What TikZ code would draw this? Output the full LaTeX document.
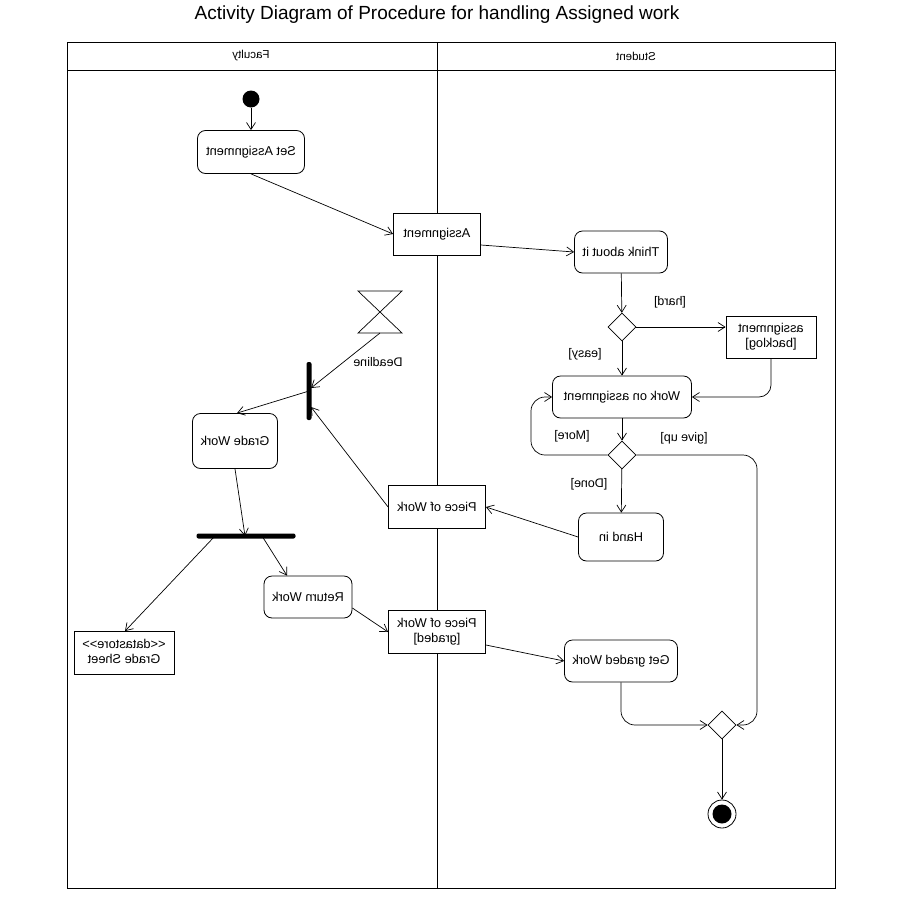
\documentclass[tikz,border=0pt]{standalone}
\usepackage{fontspec}
\setmainfont{Liberation Sans}
\usetikzlibrary{shapes.geometric,arrows.meta}
\newcommand\mir[1]{\scalebox{-1}[1]{#1}}
\tikzset{
  conn/.style={line width=0.7pt,-{Straight Barb[length=7pt,width=9pt]}},
  line/.style={line width=0.7pt},
  act/.style={draw,line width=0.8pt,rounded corners=8pt,fill=white,font=\fontsize{12.8}{14.5}\selectfont,inner sep=0pt},
  obj/.style={draw,line width=0.8pt,fill=white,font=\fontsize{12.8}{14.5}\selectfont,inner sep=0pt,align=center},
  dec/.style={draw,line width=0.8pt,diamond,fill=white,minimum width=28pt,minimum height=28pt,inner sep=0pt},
  bar/.style={fill=black,rounded corners=2pt,inner sep=0pt},
  lbl/.style={font=\fontsize{12.5}{14}\selectfont,inner sep=0pt},
  lane/.style={line width=1pt}
}
\begin{document}
\begin{tikzpicture}[x=1pt,y=-1pt]
\useasboundingbox (0,0) rectangle (900,900);
% title
\node[font=\fontsize{19}{22}\selectfont] (title) at (437,15) {Activity Diagram of Procedure for handling Assigned work};
% swimlanes
\draw[lane] (67,42) rectangle (835,888);
\draw[lane] (67,70) -- (835,70);
\draw[lane] (437,42) -- (437,888);
\node[lbl,font=\fontsize{11.5}{13}\selectfont] (fac) at (251,56) {\mir{Faculty}};
\node[lbl,font=\fontsize{11.5}{13}\selectfont] (stu) at (636,56) {\mir{Student}};
% nodes
\node[circle,fill=black,minimum size=17pt,inner sep=0pt] (init) at (251,99) {};
\node[act,minimum width=107pt,minimum height=43pt] (set) at (251,152) {\mir{Set Assignment}};
\node[obj,minimum width=87pt,minimum height=42pt] (asg) at (437,234) {\mir{Assignment}};
\node[act,minimum width=93pt,minimum height=42pt] (think) at (621,252) {\mir{Think about it}};
\node[dec] (d1) at (622,327) {};
\node[obj,minimum width=90pt,minimum height=42pt] (back) at (771,337) {\mir{\begin{tabular}{@{}c@{}}assignment\\ {[backlog]}\end{tabular}}};
\node[act,minimum width=139pt,minimum height=42pt] (work) at (622,397) {\mir{Work on assignment}};
\node[dec] (d2) at (622,455) {};
\node[act,minimum width=85pt,minimum height=48pt] (hand) at (621,537) {\mir{Hand in}};
\node[obj,minimum width=97pt,minimum height=43pt] (pow) at (437,507) {\mir{Piece of Work}};
\node[bar,minimum width=5pt,minimum height=58pt] (join) at (309,391) {};
\draw[line] (358,291) -- (402,291) -- (358,333) -- (402,333) -- cycle;
\coordinate (hg) at (380,333);
\node[lbl] (dl) at (378,362) {\mir{Deadline}};
\node[act,minimum width=85pt,minimum height=55pt] (grade) at (235,441) {\mir{Grade Work}};
\node[bar,minimum width=99pt,minimum height=5pt] (fork) at (246,536) {};
\node[obj,minimum width=100pt,minimum height=43pt] (sheet) at (124,653) {\mir{\begin{tabular}{@{}c@{}}<{}<datastore>{}>\\ Grade Sheet\end{tabular}}};
\node[act,minimum width=88pt,minimum height=42pt] (ret) at (308,597) {\mir{Return Work}};
\node[obj,minimum width=97pt,minimum height=43pt] (gpow) at (437,632) {\mir{\begin{tabular}{@{}c@{}}Piece of Work\\ {[graded]}\end{tabular}}};
\node[act,minimum width=113pt,minimum height=42pt] (get) at (621,661) {\mir{Get graded Work}};
\node[dec] (d3) at (722,725) {};
\node[circle,draw,line width=0.8pt,minimum size=28pt,inner sep=0pt] (fin) at (722,814) {};
\node[circle,fill=black,minimum size=19pt,inner sep=0pt] (fini) at (fin) {};
% guards
\node[lbl] (ghard) at (670,302) {\mir{[hard]}};
\node[lbl] (geasy) at (585,354) {\mir{[easy]}};
\node[lbl] (gmore) at (572,436) {\mir{[More]}};
\node[lbl] (ggive) at (684,438) {\mir{[give up]}};
\node[lbl] (gdone) at (589,484) {\mir{[Done]}};
% connectors
\draw[conn] (init) -- (set);
\draw[conn] (set.south) -- (asg.west);
\draw[conn] (asg.east) ++(0,11) -- (think.west);
\draw[conn] (think) -- (d1);
\draw[conn] (d1.east) -- (back.west |- d1.east);
\draw[conn] (d1) -- (work);
\draw[conn,rounded corners=12pt] (back.south) |- (work.east);
\draw[conn] (work) -- (d2);
\draw[conn,rounded corners=14pt] (d2.west) -| (531,397) -- (work.west);
\draw[conn,rounded corners=14pt] (d2.east) -| (757,725) -- (d3.east);
\draw[conn] (d2) -- (hand);
\draw[conn] (hand.west) -- (pow.east);
\draw[conn] (pow.west) -- ([yshift=-16pt,xshift=2pt]join.center);
\draw[conn] (hg) -- ([yshift=3pt,xshift=2pt]join.center);
\draw[conn] (join.center) -- ([xshift=2pt]grade.north);
\draw[conn] (grade.south) -- ([xshift=-1pt]fork.center);
\draw[conn] ([xshift=-31pt]fork.center) -- ([xshift=1pt]sheet.north);
\draw[conn] ([xshift=16pt]fork.center) -- ([xshift=-21pt]ret.north);
\draw[conn] ([yshift=-11pt]ret.east) -- (gpow.west);
\draw[conn] ([yshift=-13pt]gpow.east) -- (get.west);
\draw[conn,rounded corners=14pt] (get.south) |- (d3.west);
\draw[conn] (d3) -- (fin);
\end{tikzpicture}
\end{document}
